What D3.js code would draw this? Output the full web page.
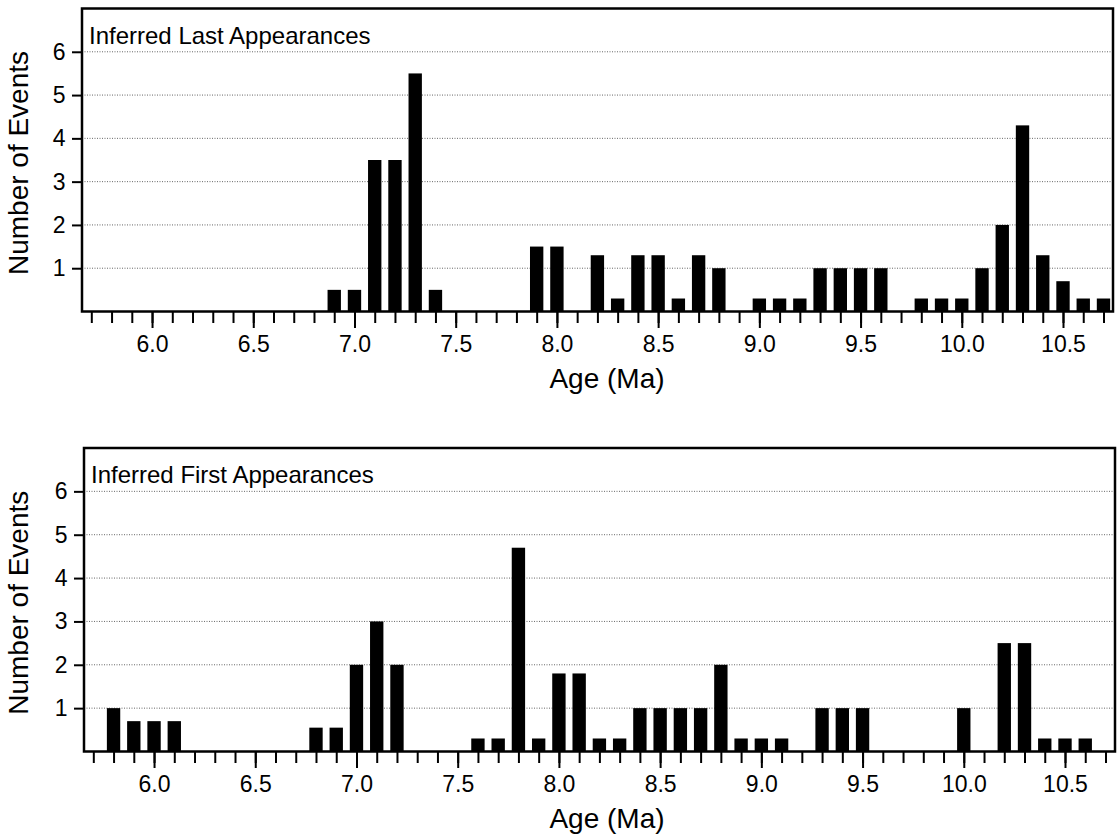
<!DOCTYPE html>
<html>
<head>
<meta charset="utf-8">
<script src="https://cdn.jsdelivr.net/npm/d3@7"></script>
<style>
  html, body { margin: 0; padding: 0; background: #fff; }
  svg { display: block; font-family: "Liberation Sans", Arial, Helvetica, sans-serif; }
</style>
</head>
<body>
<svg id="chart" width="1118" height="837"></svg>
<script>
// Inferred last appearances: age bin (Ma) and number of events
const lastAges   = [6.9, 7.0, 7.1, 7.2, 7.3, 7.4, 7.9, 8.0, 8.2, 8.3, 8.4, 8.5, 8.6, 8.7, 8.8,
                    9.0, 9.1, 9.2, 9.3, 9.4, 9.5, 9.6, 9.8, 9.9, 10.0, 10.1, 10.2, 10.3, 10.4, 10.5, 10.6, 10.7];
const lastCounts = [0.5, 0.5, 3.5, 3.5, 5.5, 0.5, 1.5, 1.5, 1.3, 0.3, 1.3, 1.3, 0.3, 1.3, 1.0,
                    0.3, 0.3, 0.3, 1.0, 1.0, 1.0, 1.0, 0.3, 0.3, 0.3, 1.0, 2.0, 4.3, 1.3, 0.7, 0.3, 0.3];

// Inferred first appearances
const firstAges   = [5.8, 5.9, 6.0, 6.1, 6.8, 6.9, 7.0, 7.1, 7.2, 7.6, 7.7, 7.8, 7.9, 8.0, 8.1, 8.2, 8.3,
                     8.4, 8.5, 8.6, 8.7, 8.8, 8.9, 9.0, 9.1, 9.3, 9.4, 9.5, 10.0, 10.2, 10.3, 10.4, 10.5, 10.6];
const firstCounts = [1.0, 0.7, 0.7, 0.7, 0.55, 0.55, 2.0, 3.0, 2.0, 0.3, 0.3, 4.7, 0.3, 1.8, 1.8, 0.3, 0.3,
                     1.0, 1.0, 1.0, 1.0, 2.0, 0.3, 0.3, 0.3, 1.0, 1.0, 1.0, 1.0, 2.5, 2.5, 0.3, 0.3, 0.3];

// Axis ticks
const xMajorTicks = [6.0, 6.5, 7.0, 7.5, 8.0, 8.5, 9.0, 9.5, 10.0, 10.5];
const xMinorTicks = d3.range(57, 108).map(v => v / 10);
const yTicks = [1, 2, 3, 4, 5, 6];

const xDomain = [5.654, 10.747];
const yDomain = [0, 7];
const barWidth = 0.066;   // in Ma

const panels = [
  { title: "Inferred Last Appearances",  ages: lastAges,  counts: lastCounts,  left: 82, right: 1113, top: 8.5, bottom: 311.5 },
  { title: "Inferred First Appearances", ages: firstAges, counts: firstCounts, left: 84, right: 1115, top: 448, bottom: 751.5 }
];

const svg = d3.select("#chart");

panels.forEach(p => {
  const x = d3.scaleLinear().domain(xDomain).range([p.left, p.right]);
  const y = d3.scaleLinear().domain(yDomain).range([p.bottom, p.top]);
  const g = svg.append("g");

  // dotted horizontal grid
  g.append("g").selectAll("line").data(yTicks).join("line")
    .attr("x1", p.left).attr("x2", p.right)
    .attr("y1", d => y(d)).attr("y2", d => y(d))
    .attr("stroke", "#666").attr("stroke-width", 1)
    .attr("stroke-dasharray", "1,1.5");

  // bars
  const data = p.ages.map((a, i) => ({ age: a, n: p.counts[i] }));
  g.append("g").selectAll("rect").data(data).join("rect")
    .attr("x", d => x(d.age - barWidth / 2))
    .attr("width", d => x(d.age + barWidth / 2) - x(d.age - barWidth / 2))
    .attr("y", d => y(d.n))
    .attr("height", d => y(0) - y(d.n))
    .attr("fill", "#000");

  // x axis: minor ticks every 0.1 Ma
  const minor = g.append("g").attr("transform", `translate(0,${p.bottom})`)
    .call(d3.axisBottom(x).tickValues(xMinorTicks).tickSize(11.5).tickFormat(""));
  // major labelled ticks
  const major = g.append("g").attr("transform", `translate(0,${p.bottom})`)
    .call(d3.axisBottom(x).tickValues(xMajorTicks).tickSize(16.5).tickPadding(7.5).tickFormat(d3.format(".1f")));

  // y axis
  const yAx = g.append("g").attr("transform", `translate(${p.left},0)`)
    .call(d3.axisLeft(y).tickValues(yTicks).tickSize(10).tickPadding(6.5).tickFormat(d3.format("d")));

  [minor, major, yAx].forEach(a => {
    a.select(".domain").remove();
    a.selectAll(".tick line").attr("stroke", "#000").attr("stroke-width", 2);
    a.selectAll(".tick text").attr("fill", "#000").attr("font-size", 23)
      .attr("font-family", "'Liberation Sans', Arial, Helvetica, sans-serif");
  });

  // frame
  g.append("rect")
    .attr("x", p.left).attr("y", p.top)
    .attr("width", p.right - p.left).attr("height", p.bottom - p.top)
    .attr("fill", "none").attr("stroke", "#000").attr("stroke-width", 2.5);

  // panel label
  g.append("text")
    .attr("x", p.left + 7).attr("y", p.top + 35)
    .attr("font-size", 24).attr("fill", "#000")
    .text(p.title);

  // axis titles
  g.append("text")
    .attr("x", 607).attr("y", p.bottom + 76)
    .attr("text-anchor", "middle")
    .attr("font-size", 28).attr("fill", "#000")
    .text("Age (Ma)");

  g.append("text")
    .attr("transform", `translate(28,${(p.top + p.bottom) / 2 + 3}) rotate(-90)`)
    .attr("text-anchor", "middle")
    .attr("font-size", 28).attr("fill", "#000")
    .text("Number of Events");
});
</script>
</body>
</html>
